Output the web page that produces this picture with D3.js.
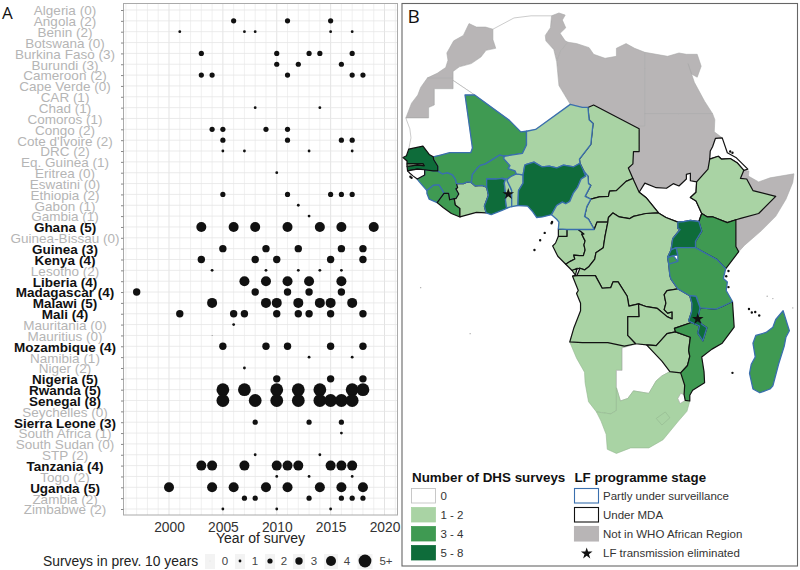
<!DOCTYPE html>
<html><head><meta charset="utf-8">
<style>html,body{margin:0;padding:0;background:#fff}svg{display:block}text{font-family:"Liberation Sans",Arial,sans-serif}</style>
<script src="https://cdn.jsdelivr.net/npm/d3@7/dist/d3.min.js"></script></head>
<body><svg id="c" width="800" height="570"></svg>
<script>
// ---------- Panel A data ----------
const countries=["Algeria","Angola","Benin","Botswana","Burkina Faso","Burundi","Cameroon","Cape Verde","CAR","Chad","Comoros","Congo","Cote d'Ivoire","DRC","Eq. Guinea","Eritrea","Eswatini","Ethiopia","Gabon","Gambia","Ghana","Guinea-Bissau","Guinea","Kenya","Lesotho","Liberia","Madagascar","Malawi","Mali","Mauritania","Mauritius","Mozambique","Namibia","Niger","Nigeria","Rwanda","Senegal","Seychelles","Sierra Leone","South Africa","South Sudan","STP","Tanzania","Togo","Uganda","Zambia","Zimbabwe"];
const surveyCounts=[0,2,2,0,3,3,2,0,1,1,1,2,2,2,1,0,0,2,1,1,5,0,3,4,2,4,4,5,4,0,0,4,1,2,5,5,8,0,3,1,0,2,4,2,5,2,2];
const boldCountries=["Ghana","Guinea","Kenya","Liberia","Madagascar","Malawi","Mali","Mozambique","Nigeria","Rwanda","Senegal","Sierra Leone","Tanzania","Uganda"];
const sizeLevels=[0,2,1,0,2,2,2,0,0,1,0,2,2,1,0,1,0,2,1,1,4,0,3,3,1,4,3,4,3,1,0,3,1,1,3,5,5,0,2,1,0,1,4,1,4,2,1];
const surveyYears=[[],[2006,2011,2015],[2001,2007,2008,2015,2017],[],[2003,2010,2013,2014,2017],[2010,2012,2016],[2003,2004,2011,2017,2018],[],[],[2008,2014],[],[2004,2005,2009,2011],[2005,2011,2016,2017],[2005,2007,2013,2017],[],[2010],[],[2005,2011,2015,2016,2017],[2012],[2013],[2003,2006,2008,2011,2014,2016,2019],[],[2005,2009,2012,2016,2018],[2003,2008,2010,2015,2018],[2004,2009,2012,2014,2016],[2007,2009,2011,2013,2016],[1997,2008,2011,2013,2016],[2004,2009,2010,2012,2014,2015,2017],[2001,2006,2007,2010,2012,2013,2015,2018],[2006],[2004],[2005,2009,2011,2015,2018],[2013,2017],[2007],[2010,2015,2018],[2005,2007,2010,2012,2014,2017,2018],[2005,2008,2010,2012,2014,2015,2016,2017],[],[2008,2013,2016],[2016],[],[2008,2014],[2003,2004,2007,2010,2011,2012,2015,2016,2017],[2010,2013,2017],[2000,2004,2006,2009,2011,2014,2016,2018],[2007,2008,2013,2016,2017,2018],[2005,2010,2015]];
const xTickYears=[2000,2005,2010,2015,2020];
const legendLevels=["0","1","2","3","4","5+"];

// ---------- Panel B data (lon, lat rings) ----------
const Morocco=[[-5.9,35.8],[-4.6,35.3],[-3,35.3],[-1.7,35],[-1.7,33.5],[-1.2,32.2],[-2.9,31.9],[-3.8,30.9],[-5.5,29.9],[-7.6,29.4],[-8.7,28.7],[-8.7,27.7],[-13.2,27.7],[-11.5,28.4],[-10,29.3],[-9.6,30.4],[-9.8,31.5],[-8.6,33.3],[-6.9,34.1]];
const WSahara=[[-8.7,27.7],[-8.7,26],[-12,26],[-12,23.4],[-13,23],[-13,21.3],[-17,21.3],[-16,23.7],[-14.9,25],[-14.4,26.2],[-13.2,27.7]];
const Tunisia=[[8.6,36.9],[9.9,37.3],[11,37],[10.5,36.3],[11.1,35.2],[10.1,34.4],[11,33.3],[11.5,33.1],[10.2,31.8],[9.5,30.2],[9,32],[7.6,33.3],[7.5,34.1],[8.4,35.2]];
const Libya=[[11.5,33.1],[13,32.9],[15.2,32.3],[16,31.3],[18,30.7],[20,31],[20,32.2],[21.7,32.9],[23.2,32.2],[25,31.6],[25,29.2],[25,20],[24,20],[24,19.5],[16,23.4],[15,23],[14,23],[11.9,23.5],[9.9,26.5],[9.5,30.2],[10.2,31.8]];
const Egypt=[[25,31.6],[29,31],[31,31.5],[32.3,31.3],[34.2,31.3],[34.9,29.5],[34.2,27.8],[33.2,28.3],[32.6,29.9],[33.7,27],[35.5,24],[36.9,22],[31,22],[25,22],[25,29.2]];
const Sudan=[[24,19.5],[24,20],[25,20],[25,22],[31,22],[36.9,22],[37.3,21],[37.2,19],[38.6,18],[37.4,17.9],[36.9,16.5],[36.5,15.8],[36.4,14.4],[36.1,12.7],[35,11.5],[34.1,10.5],[33,10.7],[33,12],[32.3,11.8],[32.3,11],[31,9.8],[30,10.2],[28.8,9.4],[27,9.5],[25,10.3],[24,8.7],[22.9,11.1],[22.1,12.9],[22.9,13.6],[23,15.7],[24,15.7]];
const Somalia=[[41,3.9],[42,4.2],[45,5],[48,8],[44,9],[42.9,11],[43.2,11.5],[45,10.5],[47,11.2],[51.2,11.9],[51,10.4],[49.8,7.5],[48,4.5],[45.5,2],[42.5,-0.6],[41.5,-1.7],[41,-0.8]];
const Djibouti=[[42.4,12.5],[43.3,12.4],[43.2,11.5],[42.9,11],[41.8,11.1]];
const Algeria=[[-1.7,35],[2,36.6],[5,36.9],[8.6,36.9],[8.4,35.2],[7.5,34.1],[7.6,33.3],[9,32],[9.5,30.2],[9.9,26.5],[11.9,23.5],[5.8,19.4],[4.2,19.1],[3.2,19],[1.2,20.9],[-4.9,25],[-8.7,27.3],[-8.7,28.7],[-7.6,29.4],[-5.5,29.9],[-3.8,30.9],[-2.9,31.9],[-1.2,32.2],[-1.7,33.5]];
const Mauritania=[[-17,21.3],[-13,21.3],[-13,23],[-12,23.4],[-12,26],[-8.7,26],[-8.7,27.3],[-4.9,25],[-6.6,25],[-5.3,16.3],[-5.6,15.5],[-9.3,15.5],[-10.9,15.1],[-12.2,14.8],[-12.9,15.2],[-14,16.6],[-16.5,16.1],[-16.1,18],[-16.3,19.5],[-16.9,21]];
const Mali=[[-12.2,14.8],[-10.9,15.1],[-9.3,15.5],[-5.6,15.5],[-5.3,16.3],[-6.6,25],[-4.9,25],[1.2,20.9],[3.2,19],[4.2,19.1],[4.2,16.8],[3.5,15.4],[0.3,14.9],[-0.5,15.1],[-2,14.2],[-3,13.6],[-4,13.3],[-4.5,12.8],[-5.3,11.8],[-5.5,10.4],[-6.2,10.5],[-6.9,10.2],[-7.6,10.2],[-8.1,10.2],[-8.3,11],[-8.8,11.7],[-9.7,12.1],[-10.6,11.9],[-11.4,12.4],[-11.4,13.2],[-12.1,14.3]];
const Senegal=[[-16.5,16.1],[-16.9,15],[-17.5,14.7],[-16.8,14.1],[-16.8,13.6],[-15.5,13.6],[-14,13.6],[-13.8,13.3],[-15,13.4],[-16.8,13.2],[-16.7,12.4],[-15,12.7],[-13.7,12.6],[-12.2,12.4],[-11.4,12.4],[-11.4,13.2],[-12.1,14.3],[-12.2,14.8],[-12.9,15.2],[-14,16.6]];
const Gambia=[[-16.8,13.6],[-15.5,13.6],[-14,13.6],[-13.8,13.3],[-15,13.4],[-16.8,13.2]];
const GuineaBissau=[[-16.7,12.4],[-15,12.7],[-13.7,12.6],[-13.7,11.7],[-15,11],[-15.7,11.5],[-16.3,12]];
const Guinea=[[-13.7,12.6],[-12.2,12.4],[-11.4,12.4],[-10.6,11.9],[-9.7,12.1],[-8.8,11.7],[-8.3,11],[-8.1,10.2],[-7.9,9.5],[-8.2,9.3],[-7.7,8.4],[-8.2,7.6],[-8.5,7.6],[-9.3,7.4],[-9.5,8.5],[-10.3,8.5],[-10.7,9.2],[-11.2,10],[-12.2,9.9],[-12.9,9.3],[-13.3,9],[-14.7,10.6],[-15,11],[-13.7,11.7]];
const SierraLeone=[[-13.3,9],[-12.9,9.3],[-12.2,9.9],[-11.2,10],[-10.7,9.2],[-10.3,8.5],[-11.5,6.9],[-12.9,7.5],[-13.3,8.5]];
const Liberia=[[-11.5,6.9],[-10.3,8.5],[-9.5,8.5],[-9.3,7.4],[-8.5,7.6],[-8.3,6.5],[-7.5,5.9],[-7.5,4.4],[-9,5],[-10.4,6]];
const CotedIvoire=[[-8.1,10.2],[-7.6,10.2],[-6.9,10.2],[-6.2,10.5],[-5.5,10.4],[-4.8,9.8],[-3.6,9.9],[-2.8,9.6],[-2.5,8.2],[-3.2,6.3],[-2.9,5.1],[-4.6,5.2],[-7.5,4.4],[-7.5,5.9],[-8.3,6.5],[-8.5,7.6],[-8.2,7.6],[-7.7,8.4],[-8.2,9.3],[-7.9,9.5]];
const BurkinaFaso=[[-5.5,10.4],[-5.3,11.8],[-4.5,12.8],[-4,13.3],[-3,13.6],[-2,14.2],[-0.5,15.1],[0.3,14.9],[0.2,14.5],[1.3,13.3],[1,12.8],[2.2,12.4],[2.4,11.9],[1.4,11.4],[0.9,11],[-0.1,11.1],[-1.2,11],[-2.8,11],[-2.8,9.6],[-3.6,9.9],[-4.8,9.8]];
const Ghana=[[-2.8,11],[-1.2,11],[-0.1,11.1],[0.5,10.9],[0.3,10.3],[0.5,8.6],[0.7,8.3],[0.5,7.4],[0.7,6],[1.2,6.1],[0,5.6],[-2,4.8],[-2.9,5.1],[-3.2,6.3],[-2.5,8.2],[-2.8,9.6]];
const Togo=[[-0.1,11.1],[0.9,11],[0.8,10.7],[1.4,9.5],[1.6,9],[1.6,6.2],[1.2,6.1],[0.7,6],[0.5,7.4],[0.7,8.3],[0.5,8.6],[0.3,10.3],[0.5,10.9]];
const Benin=[[0.9,11],[1.4,11.4],[2.4,11.9],[3.6,11.7],[3.6,10.3],[2.8,9],[2.7,6.4],[1.6,6.2],[1.6,9],[1.4,9.5],[0.8,10.7]];
const Nigeria=[[2.7,6.4],[2.8,9],[3.6,10.3],[3.6,11.7],[3.9,13.4],[4.2,13.5],[5.5,13.9],[6.9,13.1],[8.2,13.2],[9.5,12.9],[10.7,13.4],[12.5,13.1],[13.6,13.7],[14.2,12.5],[14.6,11.5],[13.8,11],[13.2,9.6],[12.4,8.5],[11.8,7.1],[11.1,6.7],[10.5,7],[9.5,6.4],[8.6,4.8],[7,4.4],[6,4.3],[5.3,5.3],[4.4,6.3]];
const Niger=[[0.3,14.9],[3.5,15.4],[4.2,16.8],[4.2,19.1],[5.8,19.4],[11.9,23.5],[14,23],[15,23],[15.2,21],[15.9,20.4],[15.5,16.9],[13.5,14.4],[13.6,13.7],[12.5,13.1],[10.7,13.4],[9.5,12.9],[8.2,13.2],[6.9,13.1],[5.5,13.9],[4.2,13.5],[3.9,13.4],[3.6,11.7],[2.4,11.9],[2.2,12.4],[1,12.8],[1.3,13.3],[0.2,14.5]];
const Chad=[[15,23],[16,23.4],[24,19.5],[24,15.7],[23,15.7],[22.9,13.6],[22.1,12.9],[22.9,11.1],[21.7,10.6],[20,9],[18.8,8.9],[18.6,8],[17,7.9],[15.5,7.5],[14.5,8],[15.5,9.9],[15.1,10.2],[15,11.5],[14.6,11.5],[14.2,12.5],[13.6,13.7],[13.5,14.4],[15.5,16.9],[15.9,20.4],[15.2,21]];
const Cameroon=[[8.6,4.8],[9.5,6.4],[10.5,7],[11.1,6.7],[11.8,7.1],[12.4,8.5],[13.2,9.6],[13.8,11],[14.6,11.5],[14.2,12.5],[15,11.5],[15.1,10.2],[15.5,9.9],[14.5,8],[15.5,7.5],[14.8,6.2],[14.4,4.5],[15.1,4],[16.1,2.2],[13.3,2.2],[11.3,2.2],[9.8,2.3],[9.9,3.5],[9.5,4]];
const CAR=[[15.5,7.5],[17,7.9],[18.6,8],[18.8,8.9],[20,9],[21.7,10.6],[22.9,11.1],[24,8.7],[25.3,7.7],[27.4,5.1],[25.2,5],[23,4.5],[22.3,4.1],[20.5,4.4],[19.4,5.1],[18.6,4.3],[18.5,3.5],[16.6,3.5],[16.1,2.2],[15.1,4],[14.4,4.5],[14.8,6.2]];
const Congo=[[16.1,2.2],[16.6,3.5],[18.5,3.5],[18,1],[17.7,-1],[16.4,-1.9],[16.2,-3],[15.2,-4.3],[14.4,-4.9],[13.6,-4.6],[12.2,-5],[11.1,-3.9],[11.9,-3.4],[12.7,-3],[12.5,-2.3],[13.5,-2.4],[14.2,-2.4],[14.5,-1.4],[14.3,-0.5],[14.5,0.2],[13.9,1.4],[14.3,1.4],[13.3,2.2]];
const Gabon=[[11.3,2.2],[13.3,2.2],[14.3,1.4],[13.9,1.4],[14.5,0.2],[14.3,-0.5],[14.5,-1.4],[14.2,-2.4],[13.5,-2.4],[12.5,-2.3],[12.7,-3],[11.9,-3.4],[11.1,-3.9],[9.7,-2.5],[8.8,-0.7],[9.3,-0.2],[9.8,1],[11.3,1]];
const EqGuinea=[[9.8,1],[11.3,1],[11.3,2.2],[9.8,2.3]];
const DRC=[[18.5,3.5],[18.6,4.3],[19.4,5.1],[20.5,4.4],[22.3,4.1],[23,4.5],[25.2,5],[27.4,5.1],[28.7,4.3],[30.8,3.5],[30.8,2.4],[31.2,2.2],[29.9,0.6],[29.6,-1.4],[29,-2.7],[29.2,-3.9],[29.4,-5.9],[29.6,-6.5],[30.8,-8.2],[28.9,-8.5],[28.4,-9.2],[28.7,-10.7],[28.4,-11.8],[29,-12.4],[29.8,-12.2],[29.8,-13.4],[28.9,-13],[27.2,-11.6],[25.3,-11.3],[23.9,-10.8],[22.2,-11.2],[21.9,-9.5],[20.3,-7],[19.4,-7],[19,-8],[17.5,-8.1],[16.3,-5.9],[13.2,-5.9],[12.3,-6],[13.1,-5.8],[13.6,-4.6],[14.4,-4.9],[15.2,-4.3],[16.2,-3],[16.4,-1.9],[17.7,-1],[18,1]];
const Angola=[[12.3,-6],[13.2,-5.9],[16.3,-5.9],[17.5,-8.1],[19,-8],[19.4,-7],[20.3,-7],[21.9,-9.5],[22.2,-11.2],[23.9,-10.8],[24,-13],[22,-13],[22,-16.2],[23.4,-17.6],[21.4,-18],[18.5,-17.4],[14,-17.4],[11.8,-17.3],[12.5,-15],[13.7,-12],[13.7,-10.7],[13,-9],[13.3,-8.5]];
const Cabinda=[[12.2,-5],[13.1,-4.6],[12.8,-5.8]];
const Zambia=[[23.9,-10.8],[25.3,-11.3],[27.2,-11.6],[28.9,-13],[29.8,-13.4],[29.8,-12.2],[29,-12.4],[28.4,-11.8],[28.7,-10.7],[28.4,-9.2],[28.9,-8.5],[30.8,-8.2],[32.9,-9.4],[33.3,-10.8],[33.2,-12.2],[32.7,-13.7],[33.2,-14],[30.2,-15],[30.4,-15.6],[28.9,-15.9],[27,-17.9],[25.3,-17.8],[23.4,-17.6],[22,-16.2],[22,-13],[24,-13]];
const Malawi=[[32.9,-9.4],[34,-9.5],[34.7,-11.5],[34.3,-13.4],[35,-14.3],[35.9,-14.9],[35.2,-17.1],[34.3,-15.8],[34.6,-14.6],[33.2,-14],[32.7,-13.7],[33.2,-12.2],[33.3,-10.8]];
const Mozambique=[[40.4,-10.4],[40.7,-14.8],[38.6,-17.5],[36.8,-18.5],[35,-19.8],[35.4,-22.2],[35.5,-24],[33.4,-25.2],[32.9,-26],[32.9,-26.9],[32.1,-26.8],[31.9,-25.9],[32,-24.4],[31.3,-22.4],[32.5,-21.2],[32.9,-19.7],[32.7,-18.7],[33,-16.5],[30.4,-15.6],[30.2,-15],[33.2,-14],[34.6,-14.6],[34.3,-15.8],[35.2,-17.1],[35.9,-14.9],[35,-14.3],[34.3,-13.4],[34.7,-11.5],[37.5,-11.7],[38.5,-11.3]];
const Tanzania=[[33.9,-1],[37.7,-3.1],[39.2,-4.7],[38.8,-6.4],[39.5,-7],[39.3,-8.5],[40.4,-10.4],[38.5,-11.3],[37.5,-11.7],[34.7,-11.5],[34,-9.5],[32.9,-9.4],[30.8,-8.2],[29.6,-6.5],[29.4,-5.9],[29.2,-3.9],[30.8,-3.4],[30.8,-2.3],[30.5,-1]];
const Burundi=[[29,-2.7],[30,-2.4],[30.8,-3.4],[29.5,-4.4],[29.2,-3.9]];
const Rwanda=[[29.6,-1.4],[30.5,-1],[30.8,-2.3],[30,-2.4],[29,-2.7]];
const Uganda=[[30.8,3.5],[31.9,3.6],[33,3.8],[34.5,3.6],[35,1.9],[33.9,0.1],[33.9,-1],[30.5,-1],[29.6,-1.4],[29.9,0.6],[31.2,2.2],[30.8,2.4]];
const Kenya=[[35,5],[36,4.4],[37,4.4],[39.5,3.4],[41,3.9],[41,-0.8],[41.5,-1.7],[39.2,-4.7],[37.7,-3.1],[33.9,-1],[33.9,0.1],[35,1.9],[34.5,3.6]];
const Ethiopia=[[36.4,14.4],[37.9,14.9],[38.5,14.4],[40,14.5],[41.2,13.8],[42.4,12.5],[41.8,11.1],[42.9,11],[44,9],[48,8],[45,5],[42,4.2],[41,3.9],[39.5,3.4],[37,4.4],[36,4.4],[35,5],[34,7.2],[33,7.8],[34,8.7],[34.1,10.5],[35,11.5],[36.1,12.7]];
const Eritrea=[[36.4,14.4],[37.9,14.9],[38.5,14.4],[40,14.5],[41.2,13.8],[42.4,12.5],[43.1,12.7],[41,14.7],[39.5,15.5],[38.6,18],[37.4,17.9],[36.9,16.5],[36.5,15.8]];
const SouthSudan=[[24,8.7],[25,10.3],[27,9.5],[28.8,9.4],[30,10.2],[31,9.8],[32.3,11],[32.3,11.8],[33,12],[33,10.7],[34.1,10.5],[34,8.7],[33,7.8],[34,7.2],[35,5],[34.5,3.6],[33,3.8],[31.9,3.6],[30.8,3.5],[28.7,4.3],[27.4,5.1],[25.3,7.7]];
const Namibia=[[11.8,-17.3],[14,-17.4],[18.5,-17.4],[21.4,-18],[23.4,-17.6],[25.3,-17.8],[24,-17.5],[21,-18.3],[21,-22],[20,-22],[20,-28.4],[19,-28.9],[17.4,-28.7],[16.5,-28.6],[15.1,-27],[14.5,-24],[14.4,-22.3],[13,-20]];
const Botswana=[[20,-22],[21,-22],[21,-18.3],[24,-17.5],[25.3,-17.8],[26.5,-19],[28,-20.5],[29.4,-22.2],[28,-22.9],[27,-23.7],[25.7,-25.7],[23,-25.3],[22,-26.5],[20.7,-26.9],[20,-24.8]];
const Zimbabwe=[[27,-17.9],[28.9,-15.9],[30.4,-15.6],[33,-16.5],[32.7,-18.7],[32.9,-19.7],[32.5,-21.2],[31.3,-22.4],[29.4,-22.2],[28,-20.5],[26.5,-19],[25.3,-17.8]];
const SouthAfrica=[[16.5,-28.6],[17.4,-28.7],[19,-28.9],[20,-28.4],[20,-24.8],[20.7,-26.9],[22,-26.5],[23,-25.3],[25.7,-25.7],[27,-23.7],[28,-22.9],[29.4,-22.2],[31.3,-22.4],[32,-24.4],[31.9,-25.9],[32.1,-26.8],[32.9,-26.9],[32.4,-28.5],[30.9,-30],[28.2,-32.8],[25.7,-34],[22.5,-34],[20,-34.8],[18.4,-34.2],[18.2,-32],[17.3,-30]];
const Eswatini=[[31.9,-25.9],[32.1,-26.8],[31.2,-27.3],[30.8,-26.5],[31.3,-25.7]];
const Lesotho=[[28.6,-28.6],[29.4,-29.5],[28,-30.6],[27,-29.6]];
const Madagascar=[[49.3,-12],[50.4,-15.4],[49.8,-16.5],[49.5,-18],[48.5,-21],[47.5,-24.5],[47,-25],[45.2,-25.6],[44,-25],[43.4,-22.5],[43.7,-21],[44.4,-19.8],[44,-17.5],[44.5,-16.2],[46.3,-15.7],[47.5,-14.8],[48,-13.5]];
const blackIslands=[[8.7,3.5],[8.6,3.3],[7.4,1.6],[6.6,0.3],[5.6,-1.4],[39.3,-6],[39.7,-5.1],[39.7,-7.9],[43.3,-11.7],[43.8,-12.3],[44.4,-12.2],[45.1,-12.8],[40.4,-22.4],[40,15.7],[40.4,15.5],[-16,11.2],[-16.2,11.4]];
const grayIslands=[[46.5,-9.5],[47.5,-9.9],[-14.4,-8],[-5.7,-15.9],[51,-11.5]];
const mapCountries=[
["Morocco",Morocco,"na","none"],["W. Sahara",WSahara,"na","none"],["Tunisia",Tunisia,"na","none"],["Libya",Libya,"na","none"],["Egypt",Egypt,"na","none"],["Sudan",Sudan,"na","none"],["Somalia",Somalia,"na","none"],["Djibouti",Djibouti,"na","none"],
["Algeria",Algeria,"0","none"],["Mauritania",Mauritania,"0","none"],["Namibia",Namibia,"1 - 2","none"],["Botswana",Botswana,"0","none"],["South Africa",SouthAfrica,"1 - 2","none"],["Lesotho",Lesotho,"1 - 2","none"],["Eswatini",Eswatini,"0","none"],
["South Sudan",SouthSudan,"0","mda"],["Eritrea",Eritrea,"0","mda"],["Ethiopia",Ethiopia,"1 - 2","mda"],["Kenya",Kenya,"3 - 4","mda"],["Chad",Chad,"1 - 2","mda"],["CAR",CAR,"1 - 2","mda"],["Gabon",Gabon,"1 - 2","mda"],["Eq. Guinea",EqGuinea,"1 - 2","mda"],["Congo",Congo,"1 - 2","mda"],["DRC",DRC,"1 - 2","mda"],["Angola",Angola,"1 - 2","mda"],["Cabinda",Cabinda,"1 - 2","mda"],["Zambia",Zambia,"1 - 2","mda"],["Zimbabwe",Zimbabwe,"1 - 2","mda"],["Mozambique",Mozambique,"3 - 4","mda"],
["Guinea",Guinea,"3 - 4","surv"],["Sierra Leone",SierraLeone,"3 - 4","surv"],["Liberia",Liberia,"3 - 4","mda"],["Cote d'Ivoire",CotedIvoire,"1 - 2","mda"],
["Mali",Mali,"3 - 4","surv"],["Burkina Faso",BurkinaFaso,"3 - 4","surv"],["Ghana",Ghana,"5 - 8","surv"],["Togo",Togo,"1 - 2","surv"],["Benin",Benin,"1 - 2","surv"],["Niger",Niger,"1 - 2","surv"],["Nigeria",Nigeria,"5 - 8","surv"],["Cameroon",Cameroon,"1 - 2","surv"],["Uganda",Uganda,"5 - 8","surv"],["Burundi",Burundi,"3 - 4","surv"],["Rwanda",Rwanda,"5 - 8","surv"],["Tanzania",Tanzania,"3 - 4","surv"],["Malawi",Malawi,"5 - 8","surv"],["Madagascar",Madagascar,"3 - 4","surv"],
["Senegal",Senegal,"5 - 8","mda"],["Gambia",Gambia,"1 - 2","mda"],["Guinea-Bissau",GuineaBissau,"0","mda"]];
const eliminatedSites=[[1,8.4],[34.3,-13.4]];
const surveyBins=["0","1 - 2","3 - 4","5 - 8"];
const stageLabels=["Partly under surveillance","Under MDA","Not in WHO African Region","LF transmission eliminated"];

// ---------- Drawing ----------
const svg=d3.select("#c");
const fillOf=d3.scaleOrdinal(["0","1 - 2","3 - 4","5 - 8","na"],["#ffffff","#a9d3a4","#3f9a52","#0e6c3a","#b8b5b6"]);
const strokeOf=d3.scaleOrdinal(["none","mda","surv"],["#aaa","#111","#3a6fae"]);
const widthOf=d3.scaleOrdinal(["none","mda","surv"],[0.6,1.2,1.3]);

// Panel A
const pA={l:123.5,r:397.5,t:3.5,b:515};
const x=d3.scaleLinear().domain([2000,2020]).range([169,384.5]);
const y=d3.scalePoint().domain(countries).range([10,509]);
const rOf=d3.scaleOrdinal(["0","1","2","3","4","5"],[0.4,1.4,2.6,3.7,5,6.4]);
const A=svg.append("g");
const yrs=d3.range(1996,2022).filter(v=>x(v)>pA.l&&x(v)<pA.r);
A.selectAll("line.vm").data(yrs).join("line").attr("x1",d=>x(d)).attr("x2",d=>x(d)).attr("y1",pA.t).attr("y2",pA.b)
 .attr("stroke",d=>d%5===0?"#dcdcdc":"#ececec").attr("stroke-width",0.8);
A.append("g").selectAll("line").data(countries).join("line").attr("x1",pA.l).attr("x2",pA.r).attr("y1",d=>y(d)).attr("y2",d=>y(d))
 .attr("stroke","#e6e6e6").attr("stroke-width",0.8);
A.append("rect").attr("x",pA.l).attr("y",pA.t).attr("width",pA.r-pA.l).attr("height",pA.b-pA.t).attr("fill","none").attr("stroke","#aaa").attr("stroke-width",1);
const yAxis=d3.axisLeft(y).tickSize(2.5).tickFormat((d,i)=>d+" ("+surveyCounts[i]+")");
const ya=A.append("g").attr("transform",`translate(${pA.l},0)`).call(yAxis);
ya.select(".domain").remove();
ya.selectAll(".tick line").attr("stroke","#888");
ya.selectAll(".tick text").attr("x",-58.5).attr("dy","0.36em").attr("text-anchor","middle")
 .style("font-size","13.5px").style("font-family",'"Liberation Sans",Arial,sans-serif')
 .style("font-weight",d=>boldCountries.includes(d)?"bold":"normal")
 .attr("fill",d=>boldCountries.includes(d)?"#111":"#b5b5b5");
const xa=A.append("g").attr("transform",`translate(0,${pA.b})`).call(d3.axisBottom(x).tickValues(xTickYears).tickFormat(d3.format("d")).tickSize(0).tickPadding(7.5));
xa.select(".domain").remove();
xa.selectAll("text").style("font-size","13.8px").style("font-family",'"Liberation Sans",Arial,sans-serif').attr("fill","#333");
A.append("text").attr("x",260.5).attr("y",543).attr("text-anchor","middle").style("font-size","14px").attr("fill","#222").text("Year of survey");
countries.forEach((c,i)=>{
  A.append("g").selectAll("circle").data(surveyYears[i]).join("circle")
   .attr("cx",d=>x(d)).attr("cy",y(c)).attr("r",rOf(String(sizeLevels[i]))).attr("fill","#111");
});
A.append("text").attr("x",2).attr("y",19).style("font-size","17px").style("font-family",'"Open Sans",sans-serif').attr("fill","#111").text("A");

// Size legend
const lgX=[210,240,270,299,331,365], lgT=[225,255,284,314,347,386], lgW=[10,10,10,12,14,15];
legendLevels.forEach((l,i)=>{
  const lv=l.replace("+","");
  A.append("rect").attr("x",lgX[i]-lgW[i]/2).attr("y",554).attr("width",lgW[i]).attr("height",15).attr("fill","#f3f3f3");
  A.append("circle").attr("cx",lgX[i]).attr("cy",561).attr("r",rOf(lv)).attr("fill",i===0?"#ccc":"#111");
  A.append("text").attr("x",lgT[i]).attr("y",565).attr("text-anchor","middle").style("font-size","11.5px").attr("fill","#444").text(l);
});
A.append("text").attr("x",43).attr("y",566).style("font-size","13.85px").attr("fill","#222").text("Surveys in prev. 10 years");

// Panel B
const B=svg.append("g");
B.append("rect").attr("x",402).attr("y",3.5).attr("width",395.5).attr("height",562.5).attr("fill","#fff").attr("stroke","#666").attr("stroke-width",1.1);
const projection=d3.geoMercator().scale(326).translate([502.6,242]);
const path=d3.geoPath(projection);
function asFeature(ring){const c=ring.concat([ring[0]]);let f={type:"Polygon",coordinates:[c]};if(d3.geoArea(f)>2*Math.PI)f={type:"Polygon",coordinates:[c.slice().reverse()]};return f;}
B.append("g").selectAll("path").data(mapCountries).join("path")
 .attr("d",d=>path(asFeature(d[1]))).attr("fill",d=>fillOf(d[2])).attr("stroke",d=>d[2]==="1 - 2"&&d[3]==="none"?"#93b791":strokeOf(d[3]))
 .attr("stroke-width",d=>widthOf(d[3])).attr("stroke-linejoin","round");
path.pointRadius(1.2);
B.append("g").selectAll("path").data(blackIslands).join("path").attr("d",d=>path({type:"Point",coordinates:d})).attr("fill","#111");
path.pointRadius(0.7);
B.append("g").selectAll("path").data(grayIslands).join("path").attr("d",d=>path({type:"Point",coordinates:d})).attr("fill","#aaa");
const star=d3.symbol().type(d3.symbolStar).size(42);
B.append("g").selectAll("path").data(eliminatedSites).join("path").attr("transform",d=>{const p=projection(d);return `translate(${p[0]},${p[1]})`}).attr("d",star).attr("fill","#111");
B.append("text").attr("x",407.5).attr("y",23).style("font-size","19px").style("font-family",'"Open Sans",sans-serif').attr("fill","#111").text("B");

// Map legend
B.append("text").attr("x",412).attr("y",481.5).style("font-size","13.4px").style("font-weight","bold").attr("fill","#111").text("Number of DHS surveys");
B.append("text").attr("x",574.5).attr("y",481.5).style("font-size","13.3px").style("font-weight","bold").attr("fill","#111").text("LF programme stage");
const rowY=[488.5,507.5,526.5,545.5];
surveyBins.forEach((b,i)=>{
  B.append("rect").attr("x",411.5).attr("y",rowY[i]).attr("width",24).attr("height",14.5).attr("fill",fillOf(b)).attr("stroke",i===0?"#bbb":fillOf(b)).attr("stroke-width",0.8);
  B.append("text").attr("x",440.5).attr("y",rowY[i]+11.3).style("font-size","11.5px").attr("fill","#333").text(b);
});
const stageStyle=[["#fff","#3a6fae"],["#fff","#111"],["#b8b5b6","#b8b5b6"]];
stageStyle.forEach((s,i)=>{
  B.append("rect").attr("x",574.5).attr("y",rowY[i]).attr("width",24).attr("height",14.5).attr("fill",s[0]).attr("stroke",s[1]).attr("stroke-width",1.1);
});
stageLabels.forEach((t,i)=>{
  B.append("text").attr("x",603).attr("y",rowY[i]+11.3).style("font-size","11.5px").attr("fill","#333").text(t);
});
B.append("path").attr("transform",`translate(586.7,553.5)`).attr("d",star).attr("fill","#111");
</script></body></html>
